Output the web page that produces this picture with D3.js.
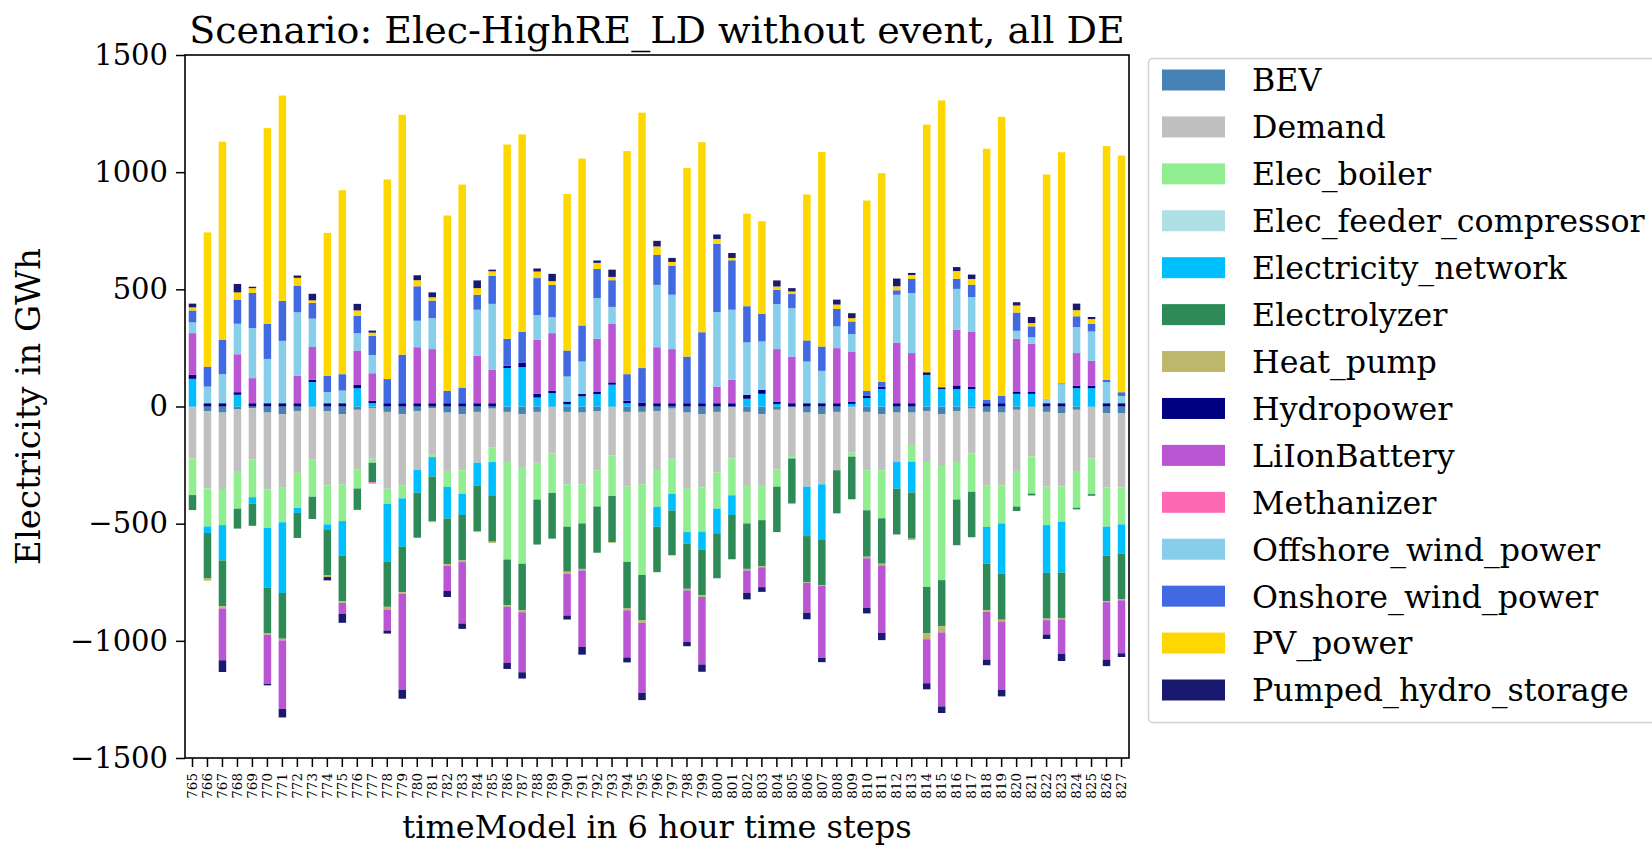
<!DOCTYPE html>
<html>
<head>
<meta charset="utf-8">
<script src="https://cdn.jsdelivr.net/npm/d3@7"></script>
<style>
  body { margin: 0; background: #fff; }
  svg text { font-family: "DejaVu Serif", serif; fill: #000; }
</style>
</head>
<body>
<svg id="chart" width="1652" height="846"></svg>
<script>
// time steps 765..827
const steps = d3.range(765, 828).map(String);

// series values in GWh, one entry per time step
const BEV = [-3,-21,-26,-11,-7,-26,-33,-19,-3,-21,-33,-14,-6,-23,-33,-19,-7,-26,-33,-23,-9,-23,-33,-23,-4,-23,-26,-21,-4,-23,-23,-19,-9,-26,-33,-23,-4,-23,-33,-14,-4,-26,-33,-23,-3,-23,-33,-26,-26,-19,-33,-19,-9,-23,-26,-14,-4,-23,-28,-14,-4,-28,-28];
const Demand = [-218,-329,-330,-268,-218,-328,-311,-264,-222,-315,-299,-256,-217,-328,-303,-252,-199,-249,-239,-217,-167,-214,-225,-217,-197,-309,-306,-251,-204,-319,-309,-252,-214,-325,-313,-259,-218,-312,-302,-254,-207,-316,-299,-249,-194,-249,-239,-211,-142,-218,-221,-218,-191,-313,-311,-261,-209,-319,-313,-261,-218,-318,-318];
const Elec_boiler = [-157,-162,-150,-157,-162,-164,-150,-150,-160,-167,-157,-80,-17,-64,-56,0,-10,-68,-100,0,-61,-416,-413,-157,-168,-181,-167,-155,-174,-321,-387,-157,-150,-185,-188,-154,-157,-164,-150,-74,-11,0,0,0,-17,-171,-205,0,-68,-533,-487,-160,-164,-178,-162,-152,-158,-164,-151,-157,-152,-167,-157];
const Elec_feeder_compressor = [0,0,0,0,0,0,0,0,0,0,0,0,0,0,0,0,0,0,0,0,0,0,0,0,0,0,0,0,0,0,0,0,0,0,0,0,0,0,0,0,0,0,0,0,0,0,0,0,0,0,0,0,0,0,0,0,0,0,0,0,0,0,0];
const Electricity_network = [118,-28,-151,50,-28,-254,-302,-21,104,-21,-147,78,14,-248,-207,-97,-83,-135,-91,-97,-145,164,168,38,57,10,43,53,93,14,0,-85,-71,-50,-78,-105,-84,33,54,11,0,-211,-235,0,11,36,75,-114,-131,135,75,74,74,-157,-214,54,54,-204,-217,78,78,-123,-125];
const Electrolyzer = [-64,-192,-195,-85,-94,-195,-195,-107,-95,-197,-195,-91,-83,-192,-194,-192,-191,-195,-194,-195,-195,-195,-198,-192,-195,-192,-194,-197,-197,-197,-194,-194,-191,-192,-194,-192,-189,-194,-197,-194,-192,-197,-195,-184,-182,-198,-194,-195,-197,-197,-197,-195,-194,-198,-197,-19,-8,-195,-195,-7,-7,-195,-195];
const Heat_pump = [0,-11,-10,0,0,-7,-7,0,0,-7,-7,0,0,-11,-7,0,-4,-7,-7,-4,-5,-7,-9,0,0,-9,-7,0,-3,-10,-10,0,0,-7,-7,0,0,-7,-4,0,0,-3,-4,0,0,-7,-7,0,-6,-26,-26,0,0,-7,-7,0,-3,-7,-4,0,0,-4,-4];
const Hydropower = [17,14,14,11,14,14,14,14,10,14,14,14,10,14,14,14,14,14,14,14,14,10,18,16,11,11,11,11,10,11,17,14,14,14,14,14,14,17,17,10,14,14,14,14,10,11,10,14,14,11,7,16,11,14,14,10,10,14,14,10,10,14,14];
const LiIonBattery = [178,0,-221,162,107,-209,-293,117,140,0,-47,147,118,-90,-409,239,231,-107,-262,202,142,-239,-256,231,245,-178,-326,225,249,-201,-299,239,231,-219,-288,71,100,-95,-85,224,199,-127,-306,235,214,-211,-288,259,214,-188,-316,238,235,-204,-292,225,204,-61,-147,140,107,-245,-226];
const Methanizer = [0,0,0,0,0,0,0,0,0,0,0,0,-6,0,0,0,0,0,0,0,0,0,0,0,0,0,0,0,0,0,0,0,0,0,0,0,0,0,0,0,0,0,0,0,0,0,0,0,0,0,0,0,0,0,0,0,0,0,0,0,0,0,0];
const Offshore_wind_power = [46,71,124,130,214,189,266,271,121,47,54,74,78,0,0,113,132,0,0,197,282,0,0,105,68,107,138,174,73,0,0,266,232,0,0,318,299,224,207,192,207,178,138,93,74,0,0,204,256,0,0,174,147,0,0,34,28,19,81,111,125,90,31];
const Onshore_wind_power = [51,85,147,103,150,150,171,114,67,70,70,74,81,103,207,147,75,53,67,64,120,115,132,158,138,111,154,124,114,113,147,128,124,199,303,291,211,154,118,61,60,90,104,74,54,20,21,19,60,0,0,43,53,14,31,78,46,0,4,46,33,10,16];
const PV_power = [13,573,845,31,20,835,876,33,11,610,785,23,14,852,1024,26,14,748,866,28,19,829,843,28,16,668,712,26,14,952,1090,36,16,805,811,21,10,395,395,14,11,623,830,19,14,812,890,17,17,1057,1224,33,24,1072,1191,30,14,957,986,26,20,997,1010];
const Pumped_hydro_storage = [16,0,-50,36,6,-7,-36,10,28,-14,-38,28,9,-13,-38,21,21,-26,-23,33,7,-26,-27,13,31,-17,-33,10,31,-21,-31,24,17,-19,-31,19,21,-28,-20,26,14,-28,-19,21,21,-24,-31,33,9,-26,-28,17,19,-24,-28,14,26,-19,-31,28,9,-28,-16];

const seriesNames = ['BEV', 'Demand', 'Elec_boiler', 'Elec_feeder_compressor', 'Electricity_network',
    'Electrolyzer', 'Heat_pump', 'Hydropower', 'LiIonBattery', 'Methanizer',
    'Offshore_wind_power', 'Onshore_wind_power', 'PV_power', 'Pumped_hydro_storage'];
const seriesValues = [BEV, Demand, Elec_boiler, Elec_feeder_compressor, Electricity_network,
    Electrolyzer, Heat_pump, Hydropower, LiIonBattery, Methanizer,
    Offshore_wind_power, Onshore_wind_power, PV_power, Pumped_hydro_storage];
const seriesColors = ['steelblue', 'silver', 'lightgreen', 'powderblue', 'deepskyblue',
    'seagreen', 'darkkhaki', 'navy', 'mediumorchid', 'hotpink',
    'skyblue', 'royalblue', 'gold', 'midnightblue'];

const yTicks = [-1500, -1000, -500, 0, 500, 1000, 1500];

const plot = { left: 185, right: 1129, top: 55, bottom: 758 };

const svg = d3.select('#chart');
svg.append('rect').attr('width', 1652).attr('height', 846).attr('fill', '#fff');

const x = d3.scaleBand()
    .domain(steps)
    .range([plot.left, plot.right])
    .paddingInner(0.5)
    .paddingOuter(0.25);

const y = d3.scaleLinear()
    .domain([-1500, 1500])
    .range([plot.bottom, plot.top]);

// stack positives upward and negatives downward, in column order (like pandas)
const segments = [];
steps.forEach((step, i) => {
    let pos = 0;
    let neg = 0;
    seriesValues.forEach((vals, s) => {
        const v = vals[i];
        if (v === 0) return;
        if (v > 0) {
            segments.push({ step, s, y0: pos, y1: pos + v });
            pos += v;
        } else {
            segments.push({ step, s, y0: neg + v, y1: neg });
            neg += v;
        }
    });
});

const barGroup = svg.append('g').attr('class', 'bars');
barGroup.selectAll('rect')
    .data(segments)
    .enter()
    .append('rect')
    .attr('x', d => x(d.step))
    .attr('width', x.bandwidth())
    .attr('y', d => y(d.y1))
    .attr('height', d => y(d.y0) - y(d.y1))
    .attr('fill', d => seriesColors[d.s]);

// axes
const yAxis = d3.axisLeft(y)
    .tickValues(yTicks)
    .tickSize(9)
    .tickPadding(8)
    .tickFormat(d => String(d).replace('-', '\u2212'));

const yAxisG = svg.append('g')
    .attr('transform', `translate(${plot.left},0)`)
    .call(yAxis);
yAxisG.select('.domain').remove();
yAxisG.selectAll('line').attr('stroke', '#000').attr('stroke-width', 1.5);
yAxisG.selectAll('text').attr('font-size', 29).attr('font-family', 'DejaVu Serif');

const xAxis = d3.axisBottom(x).tickSize(9).tickPadding(6);
const xAxisG = svg.append('g')
    .attr('transform', `translate(0,${plot.bottom})`)
    .call(xAxis);
xAxisG.select('.domain').remove();
xAxisG.selectAll('line').attr('stroke', '#000').attr('stroke-width', 1.5);
xAxisG.selectAll('text')
    .attr('font-size', 13.5)
    .attr('font-family', 'DejaVu Serif')
    .attr('text-anchor', 'end')
    .attr('dy', '0.35em')
    .attr('transform', 'rotate(-90)')
    .attr('x', -15)
    .attr('y', 0);

// frame
svg.append('rect')
    .attr('x', plot.left)
    .attr('y', plot.top)
    .attr('width', plot.right - plot.left)
    .attr('height', plot.bottom - plot.top)
    .attr('fill', 'none')
    .attr('stroke', '#000')
    .attr('stroke-width', 1.6);

// title and axis labels
svg.append('text')
    .attr('x', (plot.left + plot.right) / 2)
    .attr('y', 43)
    .attr('text-anchor', 'middle')
    .attr('font-size', 38)
    .text('Scenario: Elec-HighRE_LD without event, all DE');

svg.append('text')
    .attr('x', (plot.left + plot.right) / 2)
    .attr('y', 838)
    .attr('text-anchor', 'middle')
    .attr('font-size', 32)
    .text('timeModel in 6 hour time steps');

svg.append('text')
    .attr('transform', `translate(40,${(plot.top + plot.bottom) / 2}) rotate(-90)`)
    .attr('text-anchor', 'middle')
    .attr('font-size', 34)
    .text('Electricity in GWh');

// legend
const legend = svg.append('g').attr('class', 'legend');
legend.append('rect')
    .attr('x', 1148.5)
    .attr('y', 58.5)
    .attr('width', 510)
    .attr('height', 664)
    .attr('rx', 4)
    .attr('fill', '#fff')
    .attr('stroke', '#d0d0d0')
    .attr('stroke-width', 1.5);

const rowY = d3.scalePoint()
    .domain(seriesNames)
    .range([80, 690]);

const items = legend.selectAll('g.item')
    .data(seriesNames)
    .enter()
    .append('g')
    .attr('class', 'item')
    .attr('transform', d => `translate(0,${rowY(d)})`);

items.append('rect')
    .attr('x', 1162)
    .attr('y', -10.5)
    .attr('width', 63)
    .attr('height', 21)
    .attr('fill', (d, i) => seriesColors[i]);

items.append('text')
    .attr('x', 1252)
    .attr('y', 0)
    .attr('dy', '0.36em')
    .attr('font-size', 31.7)
    .text(d => d);
</script>
</body>
</html>
